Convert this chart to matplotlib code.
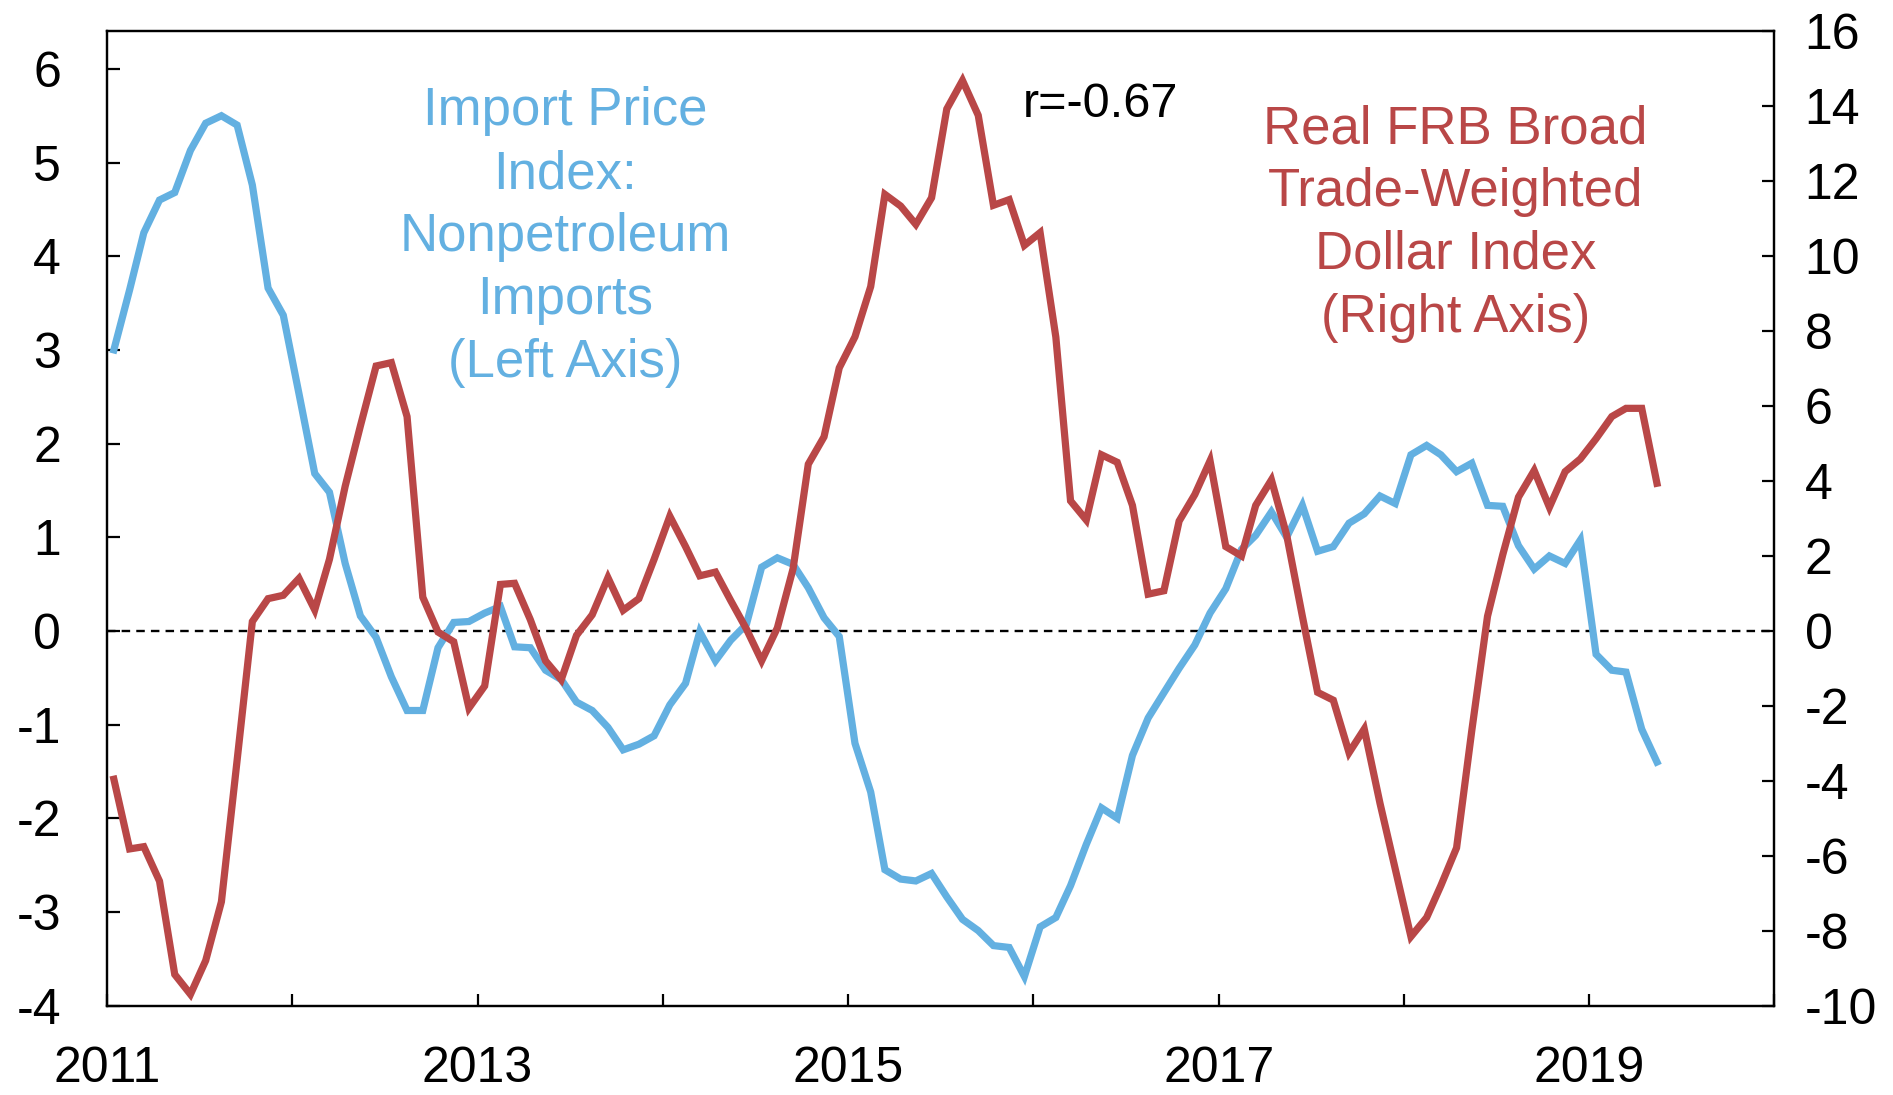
import numpy as np
import pandas as pd
import matplotlib
matplotlib.use("Agg")
import matplotlib.pyplot as plt
import matplotlib.dates as mdates

plt.rcParams['font.family'] = ['Liberation Sans', 'DejaVu Sans']
plt.rcParams['axes.unicode_minus'] = False

# monthly observations, Jan 2011 - May 2019 (plotted mid-month)
months = pd.date_range("2011-01-01", "2019-05-01", freq="MS") + pd.Timedelta(days=14)

# Import Price Index: Nonpetroleum Imports (left axis)
import_price = [
    3.00, 3.64, 4.25, 4.60, 4.68, 5.13, 5.42, 5.50, 5.40, 4.76,
    3.66, 3.37, 2.53, 1.68, 1.48, 0.72, 0.16, -0.07, -0.49, -0.85,
    -0.85, -0.18, 0.09, 0.10, 0.19, 0.26, -0.17, -0.18, -0.42, -0.52,
    -0.76, -0.85, -1.03, -1.27, -1.21, -1.12, -0.79, -0.56, -0.01, -0.32,
    -0.10, 0.07, 0.68, 0.78, 0.71, 0.46, 0.14, -0.06, -1.20, -1.72,
    -2.55, -2.65, -2.67, -2.59, -2.84, -3.08, -3.20, -3.36, -3.38, -3.69,
    -3.16, -3.06, -2.72, -2.28, -1.89, -2.00, -1.33, -0.93, -0.66, -0.40,
    -0.15, 0.19, 0.45, 0.87, 1.02, 1.27, 1.00, 1.34, 0.85, 0.90,
    1.15, 1.25, 1.44, 1.36, 1.88, 1.98, 1.88, 1.70, 1.79, 1.34,
    1.33, 0.91, 0.66, 0.80, 0.72, 0.97, -0.25, -0.42, -0.44, -1.05,
    -1.40,
]

# Real FRB Broad Trade-Weighted Dollar Index (right axis)
dollar_index = [
    -3.96, -5.82, -5.76, -6.68, -9.17, -9.70, -8.80, -7.23, -3.45, 0.25,
    0.86, 0.95, 1.40, 0.56, 1.91, 3.86, 5.47, 7.07, 7.16, 5.72,
    0.90, -0.03, -0.29, -2.06, -1.47, 1.24, 1.27, 0.30, -0.80, -1.30,
    -0.12, 0.43, 1.42, 0.55, 0.86, 1.91, 3.06, 2.25, 1.47, 1.57,
    0.81, 0.05, -0.80, 0.08, 1.66, 4.45, 5.18, 7.02, 7.85, 9.19,
    11.65, 11.34, 10.85, 11.56, 13.93, 14.69, 13.76, 11.36, 11.51, 10.29,
    10.63, 7.84, 3.47, 2.96, 4.70, 4.50, 3.35, 0.98, 1.07, 2.93,
    3.64, 4.54, 2.25, 2.00, 3.35, 4.03, 2.56, 0.39, -1.64, -1.85,
    -3.25, -2.62, -4.60, -6.35, -8.16, -7.65, -6.80, -5.79, -2.66, 0.39,
    2.03, 3.57, 4.28, 3.30, 4.25, 4.59, 5.13, 5.72, 5.94, 5.94,
    3.94,
]

left_ticks = [-4, -3, -2, -1, 0, 1, 2, 3, 4, 5, 6]
right_ticks = [-10, -8, -6, -4, -2, 0, 2, 4, 6, 8, 10, 12, 14, 16]
labelled_years = [2011, 2013, 2015, 2017, 2019]

blue = "#63B0E1"
red = "#B94747"

fig = plt.figure(figsize=(18.93, 10.95), dpi=100)
ax = fig.add_axes([0.0564, 0.0817, 0.8808, 0.8896])
ax2 = ax.twinx()

ax.axhline(0, color="black", lw=1.7, ls=(0, (3.6, 2.6)), zorder=1)
ax.plot(months, import_price, color=blue, lw=5.2, solid_joinstyle="miter", zorder=2)
ax2.plot(months, dollar_index, color=red, lw=5.2, solid_joinstyle="miter")

ax.set_xlim(pd.Timestamp("2011-01-01"), pd.Timestamp("2020-01-01"))
ax.set_ylim(-4, 6.4)
ax2.set_ylim(-10, 16)
ax.set_yticks(left_ticks)
ax2.set_yticks(right_ticks)

ax.xaxis.set_major_locator(mdates.YearLocator())
ax.xaxis.set_major_formatter(
    plt.FuncFormatter(lambda v, p: str(mdates.num2date(v).year)
                      if mdates.num2date(v).year in labelled_years else ""))

for a in (ax, ax2):
    for s in a.spines.values():
        s.set_linewidth(1.6)
ax.tick_params(axis="y", direction="in", length=9, width=1.6, labelsize=36, pad=33)
ax2.tick_params(axis="y", direction="in", length=9, width=1.6, labelsize=36, pad=22)
ax.tick_params(axis="x", direction="in", length=9, width=1.6, labelsize=36, pad=29)

ax.text(0.275, 0.789, "Import Price\nIndex:\nNonpetroleum\nImports\n(Left Axis)",
        transform=ax.transAxes, ha="center", va="center", color=blue,
        fontsize=38, linespacing=1.33)
ax.text(0.809, 0.803, "Real FRB Broad\nTrade-Weighted\nDollar Index\n(Right Axis)",
        transform=ax.transAxes, ha="center", va="center", color=red,
        fontsize=38, linespacing=1.33)
ax.text(0.596, 0.925, "r=-0.67", transform=ax.transAxes, ha="center", va="center",
        color="black", fontsize=35)

fig.savefig("out.png", dpi=100)
